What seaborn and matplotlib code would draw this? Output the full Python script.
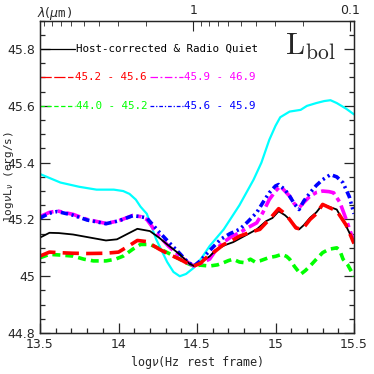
import numpy as np
import pandas as pd
import matplotlib
matplotlib.use('Agg')
import matplotlib.pyplot as plt
import seaborn as sns

# log nu (Hz, rest frame) vs log nu L_nu (erg/s)
x_black = [13.5, 13.56, 13.62, 13.71, 13.8, 13.92, 13.99, 14.06, 14.12, 14.2, 14.26, 14.31, 14.39,
           14.45, 14.48, 14.52, 14.58, 14.625, 14.68, 14.73, 14.78, 14.84, 14.88, 14.94, 14.98, 15.02,
           15.06, 15.09, 15.12, 15.15, 15.18, 15.22, 15.26, 15.3, 15.34, 15.39, 15.45, 15.5]
y_black = [45.136, 45.153, 45.152, 45.147, 45.138, 45.126, 45.13, 45.15, 45.167, 45.159, 45.135, 45.112,
           45.077, 45.045, 45.036, 45.048, 45.07, 45.095, 45.11, 45.12, 45.135, 45.153, 45.165, 45.194,
           45.205, 45.229, 45.215, 45.2, 45.18, 45.165, 45.18, 45.206, 45.225, 45.253, 45.245, 45.235,
           45.176, 45.12]

x_red = [13.5, 13.56, 13.62, 13.71, 13.8, 13.92, 14.0, 14.06, 14.12, 14.18, 14.26, 14.33, 14.39, 14.44,
         14.48, 14.52, 14.56, 14.62, 14.67, 14.72, 14.77, 14.84, 14.9, 14.96, 15.02, 15.06, 15.09, 15.13,
         15.17, 15.22, 15.26, 15.3, 15.35, 15.39, 15.45, 15.5]
y_red = [45.071, 45.085, 45.083, 45.081, 45.08, 45.081, 45.085, 45.105, 45.126, 45.122, 45.095, 45.075,
         45.06, 45.045, 45.036, 45.045, 45.066, 45.09, 45.112, 45.125, 45.141, 45.155, 45.165, 45.2,
         45.238, 45.22, 45.2, 45.17, 45.165, 45.2, 45.22, 45.253, 45.24, 45.23, 45.18, 45.115]

x_magenta = [13.5, 13.56, 13.61, 13.71, 13.8, 13.92, 14.0, 14.09, 14.14, 14.18, 14.22, 14.26, 14.32,
             14.39, 14.44, 14.48, 14.52, 14.58, 14.63, 14.67, 14.72, 14.77, 14.82, 14.88, 14.92, 14.96,
             15.0, 15.03, 15.06, 15.09, 15.12, 15.15, 15.18, 15.22, 15.26, 15.3, 15.34, 15.37, 15.41,
             15.45, 15.5]
y_magenta = [45.21, 45.225, 45.23, 45.218, 45.2, 45.186, 45.195, 45.214, 45.21, 45.2, 45.17, 45.141,
             45.105, 45.071, 45.05, 45.036, 45.045, 45.06, 45.1, 45.12, 45.14, 45.153, 45.17, 45.188,
             45.225, 45.27, 45.3, 45.317, 45.3, 45.282, 45.255, 45.241, 45.26, 45.282, 45.295, 45.3,
             45.298, 45.294, 45.26, 45.2, 45.12]

x_blue = [13.5, 13.56, 13.61, 13.71, 13.8, 13.92, 14.0, 14.09, 14.14, 14.18, 14.22, 14.26, 14.32, 14.39,
          14.44, 14.48, 14.52, 14.58, 14.65, 14.71, 14.77, 14.82, 14.88, 14.92, 14.96, 15.0, 15.02, 15.06,
          15.09, 15.12, 15.15, 15.18, 15.22, 15.26, 15.3, 15.35, 15.39, 15.43, 15.47, 15.5]
y_blue = [45.205, 45.222, 45.228, 45.215, 45.198, 45.185, 45.195, 45.213, 45.21, 45.205, 45.18, 45.155,
          45.12, 45.08, 45.05, 45.036, 45.054, 45.09, 45.13, 45.15, 45.165, 45.19, 45.224, 45.26, 45.294,
          45.318, 45.323, 45.305, 45.282, 45.255, 45.235, 45.265, 45.294, 45.32, 45.34, 45.358, 45.35,
          45.329, 45.28, 45.22]

x_green = [13.5, 13.56, 13.62, 13.71, 13.78, 13.84, 13.92, 13.98, 14.03, 14.09, 14.14, 14.2, 14.25, 14.29,
           14.34, 14.39, 14.44, 14.48, 14.52, 14.58, 14.63, 14.67, 14.7, 14.73, 14.77, 14.8, 14.84, 14.87,
           14.9, 14.93, 14.96, 15.0, 15.04, 15.07, 15.09, 15.12, 15.16, 15.19, 15.22, 15.26, 15.3, 15.34,
           15.39, 15.41, 15.43, 15.46, 15.5]
y_green = [45.065, 45.077, 45.075, 45.071, 45.06, 45.054, 45.054, 45.06, 45.071, 45.095, 45.112, 45.112,
           45.1, 45.089, 45.075, 45.06, 45.045, 45.036, 45.039, 45.036, 45.04, 45.048, 45.055, 45.06,
           45.05, 45.048, 45.06, 45.05, 45.054, 45.06, 45.066, 45.07, 45.077, 45.07, 45.06, 45.035, 45.007,
           45.02, 45.036, 45.06, 45.083, 45.095, 45.1, 45.09, 45.06, 45.04, 45.0]

x_cyan = [13.5, 13.63, 13.75, 13.86, 13.97, 14.03, 14.07, 14.11, 14.14, 14.18, 14.24, 14.31, 14.35, 14.39,
          14.43, 14.48, 14.53, 14.58, 14.67, 14.77, 14.8, 14.86, 14.91, 14.96, 15.0, 15.03, 15.09, 15.16,
          15.2, 15.26, 15.31, 15.35, 15.39, 15.45, 15.5]
y_cyan = [45.36, 45.33, 45.315, 45.305, 45.305, 45.3, 45.29, 45.27, 45.245, 45.22, 45.13, 45.05, 45.015,
          45.0, 45.008, 45.03, 45.065, 45.106, 45.165, 45.25, 45.28, 45.34, 45.4, 45.48, 45.53, 45.56,
          45.58, 45.586, 45.6, 45.61, 45.617, 45.62, 45.61, 45.59, 45.57]

wavelength_ticks = [1, 0.1]          # micron
wavelength_minor = [2, 3, 4, 5, 6, 7, 8, 9, 0.9, 0.8, 0.7, 0.6, 0.5, 0.4, 0.3, 0.2]

sns.set_style('ticks')
plt.rcParams['font.family'] = ['DejaVu Sans']
plt.rcParams['xtick.direction'] = 'in'
plt.rcParams['ytick.direction'] = 'in'

fig = plt.figure(figsize=(3.74, 3.74), dpi=100)
ax = fig.add_axes([0.107, 0.1096, 0.8396, 0.835])

mono = 'DejaVu Sans Mono'
series = [
    (x_cyan, y_cyan, '#00ffff', '-', 1.6),
    (x_green, y_green, '#00ff00', (0, (2.2, 1.4)), 2.6),
    (x_magenta, y_magenta, '#ff00ff', (0, (4, 1.2, 1.2, 1.2)), 2.6),
    (x_blue, y_blue, '#0000ff', (0, (2, 1, 0.6, 1, 0.6, 1)), 2.6),
    (x_black, y_black, 'black', '-', 1.3),
    (x_red, y_red, '#ff0000', (0, (4.5, 2)), 2.6),
]
for xs, ys, col, ls, lw in series:
    df = pd.DataFrame({'lognu': xs, 'lum': ys})
    sns.lineplot(data=df, x='lognu', y='lum', ax=ax, color=col, linestyle=ls, linewidth=lw)

ax.set_xlim(13.5, 15.5)
ax.set_ylim(44.8, 45.9)
ax.set_xticks([13.5, 14, 14.5, 15, 15.5])
ax.set_xticklabels(['13.5', '14', '14.5', '15', '15.5'])
ax.set_xticks(np.arange(13.5, 15.5, 0.1), minor=True)
ax.set_yticks([44.8, 45, 45.2, 45.4, 45.6, 45.8])
ax.set_yticklabels(['44.8', '45', '45.2', '45.4', '45.6', '45.8'])
ax.set_yticks(np.arange(44.8, 45.9, 0.05), minor=True)
ax.tick_params(which='both', top=False, right=True, labelsize=9, width=0.9)
ax.tick_params(which='major', length=7)
ax.tick_params(which='minor', length=3.5)
for s in ax.spines.values():
    s.set_linewidth(1.0)

ax.set_xlabel(r'log$\nu$(Hz rest frame)', fontsize=8.5, family=mono, labelpad=2)
ax.set_ylabel(r'log$\nu$L$_\nu$ (erg/s)', fontsize=8, family=mono)
ax.yaxis.set_label_coords(-0.078, 0.5)

# top axis in wavelength
top = ax.twiny()
top.set_xlim(ax.get_xlim())
top.set_xticks([14.4768 - np.log10(w) for w in wavelength_ticks])
top.set_xticklabels([f'{w:g}' for w in wavelength_ticks], fontsize=9)
top.set_xticks([14.4768 - np.log10(w) for w in wavelength_minor], minor=True)
top.tick_params(which='both', direction='in', pad=3)
top.tick_params(which='major', length=7)
top.tick_params(which='minor', length=3.5)
top.grid(False)
ax.text(-0.01, 1.012, r'$\lambda(\mu$m)', transform=ax.transAxes, fontsize=9,
        ha='left', va='baseline', family=mono)

# in-plot key
key = [
    (13.5, 13.72, 45.8, 'black', '-', 'Host-corrected & Radio Quiet'),
    (13.5, 13.71, 45.7, '#ff0000', (0, (9, 2)), '45.2 - 45.6'),
    (14.2, 14.41, 45.7, '#ff00ff', (0, (6, 2, 1.5, 2)), '45.9 - 46.9'),
    (13.5, 13.72, 45.6, '#00ff00', (0, (3.5, 2)), '44.0 - 45.2'),
    (14.2, 14.41, 45.6, '#0000ff', (0, (3, 1.5, 1, 1.5)), '45.6 - 45.9'),
]
for x0, x1, yk, col, ls, lab in key:
    ax.plot([x0, x1], [yk, yk], color=col, linestyle=ls, linewidth=0.9)
    ax.text(x1 + 0.01, yk, lab, color=col, fontsize=7.8, family=mono, va='center', ha='left')

ax.text(15.06, 45.782, r'$\mathrm{L_{bol}}$', fontsize=22, math_fontfamily='cm',
        ha='left', va='baseline')

fig.savefig('out.png', dpi=100)
